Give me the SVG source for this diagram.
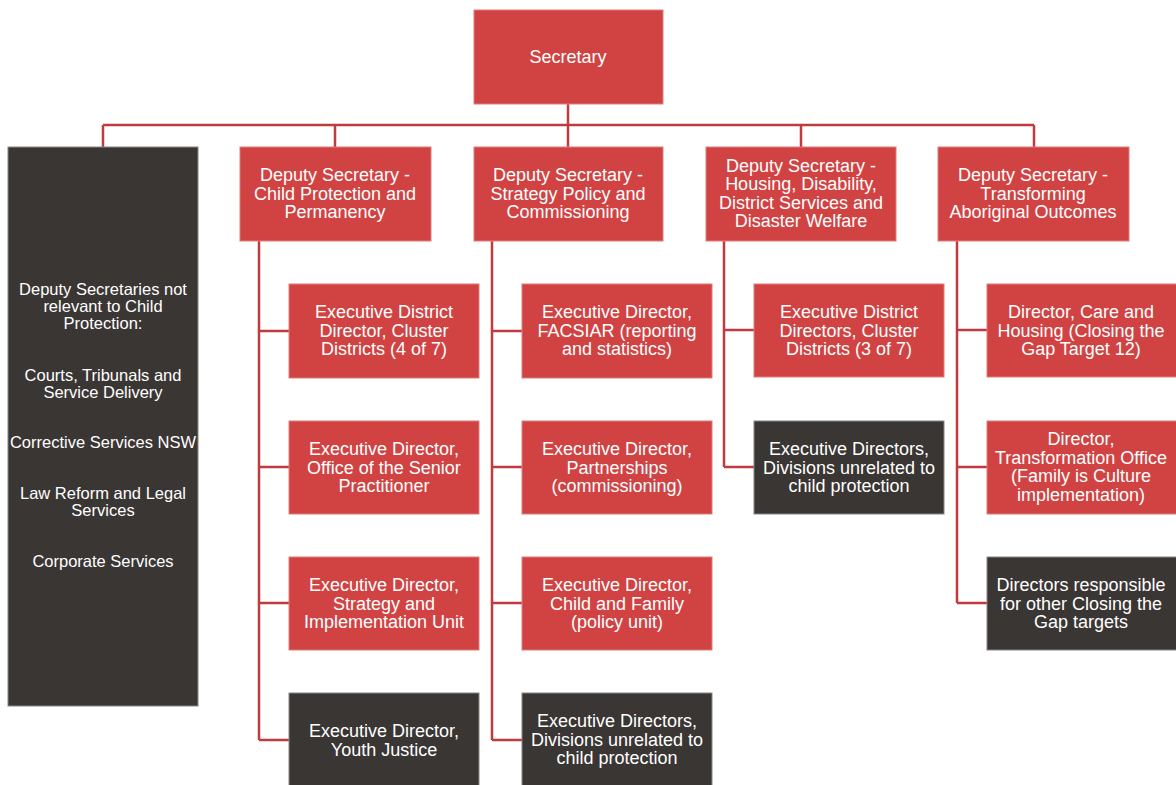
<svg xmlns="http://www.w3.org/2000/svg" width="1176" height="785" viewBox="0 0 1176 785">
<style>
.r{fill:#D14343;stroke:#E27C7C;stroke-width:1}
.d{fill:#3A3634;stroke:#8A8684;stroke-width:1}
text{font-family:"Liberation Sans",Arial,sans-serif;font-size:18px;fill:#FFFFFF;text-anchor:middle}
.s{font-size:16.5px}
.c{fill:none;stroke:#BF3B3D;stroke-width:2.5}
</style>
<rect width="1176" height="785" fill="#FFFFFF"/>
<g id="connectors">
<path class="c" d="M568 104V147M103 125H1034M103 125V147M335 125V147M801 125V147M1034 125V147"/>
<path class="c" d="M259 241V740M259 331H290M259 467H290M259 603H290M259 740H290"/>
<path class="c" d="M492 241V740M492 331H522M492 467H522M492 603H522M492 740H522"/>
<path class="c" d="M724 241V467M724 330H754M724 467H754"/>
<path class="c" d="M957 241V603M957 330H987M957 467H987M957 603H987"/>
</g>
<g id="secretary"><rect class="r" x="474" y="10" width="189" height="94"/><text x="568" y="63">Secretary</text></g>
<g id="other-deputies"><rect class="d" x="8" y="147" width="190" height="559"/>
<text class="s" x="103" y="295">Deputy Secretaries not</text>
<text class="s" x="103" y="312">relevant to Child</text>
<text class="s" x="103" y="329">Protection:</text>
<text class="s" x="103" y="381">Courts, Tribunals and</text>
<text class="s" x="103" y="398">Service Delivery</text>
<text class="s" x="103" y="448">Corrective Services NSW</text>
<text class="s" x="103" y="499">Law Reform and Legal</text>
<text class="s" x="103" y="516">Services</text>
<text class="s" x="103" y="567">Corporate Services</text>
</g>
<g id="ds-child"><rect class="r" x="240" y="147" width="191" height="94"/>
<text x="335" y="181">Deputy Secretary -</text><text x="335" y="199.5">Child Protection and</text><text x="335" y="218">Permanency</text></g>
<g id="ds-strategy"><rect class="r" x="474" y="147" width="189" height="94"/>
<text x="568" y="181">Deputy Secretary -</text><text x="568" y="199.5">Strategy Policy and</text><text x="568" y="218">Commissioning</text></g>
<g id="ds-housing"><rect class="r" x="706" y="147" width="190" height="94"/>
<text x="801" y="171.5">Deputy Secretary -</text><text x="801" y="190">Housing, Disability,</text><text x="801" y="208.5">District Services and</text><text x="801" y="227">Disaster Welfare</text></g>
<g id="ds-aboriginal"><rect class="r" x="938" y="147" width="191" height="94"/>
<text x="1033" y="181">Deputy Secretary -</text><text x="1033" y="199.5">Transforming</text><text x="1033" y="218">Aboriginal Outcomes</text></g>
<g id="c1r1"><rect class="r" x="289" y="284" width="190" height="94"/>
<text x="384" y="318">Executive District</text><text x="384" y="336.5">Director, Cluster</text><text x="384" y="355">Districts (4 of 7)</text></g>
<g id="c1r2"><rect class="r" x="289" y="421" width="190" height="93"/>
<text x="384" y="455">Executive Director,</text><text x="384" y="473.5">Office of the Senior</text><text x="384" y="492">Practitioner</text></g>
<g id="c1r3"><rect class="r" x="289" y="557" width="190" height="93"/>
<text x="384" y="591">Executive Director,</text><text x="384" y="609.5">Strategy and</text><text x="384" y="628">Implementation Unit</text></g>
<g id="c1r4"><rect class="d" x="289" y="693" width="190" height="93"/>
<text x="384" y="737">Executive Director,</text><text x="384" y="755.5">Youth Justice</text></g>
<g id="c2r1"><rect class="r" x="522" y="284" width="190" height="94"/>
<text x="617" y="318">Executive Director,</text><text x="617" y="336.5">FACSIAR (reporting</text><text x="617" y="355">and statistics)</text></g>
<g id="c2r2"><rect class="r" x="522" y="421" width="190" height="93"/>
<text x="617" y="455">Executive Director,</text><text x="617" y="473.5">Partnerships</text><text x="617" y="492">(commissioning)</text></g>
<g id="c2r3"><rect class="r" x="522" y="557" width="190" height="93"/>
<text x="617" y="591">Executive Director,</text><text x="617" y="609.5">Child and Family</text><text x="617" y="628">(policy unit)</text></g>
<g id="c2r4"><rect class="d" x="522" y="693" width="190" height="93"/>
<text x="617" y="727">Executive Directors,</text><text x="617" y="745.5">Divisions unrelated to</text><text x="617" y="764">child protection</text></g>
<g id="c3r1"><rect class="r" x="754" y="284" width="190" height="93"/>
<text x="849" y="318">Executive District</text><text x="849" y="336.5">Directors, Cluster</text><text x="849" y="355">Districts (3 of 7)</text></g>
<g id="c3r2"><rect class="d" x="754" y="421" width="190" height="93"/>
<text x="849" y="455">Executive Directors,</text><text x="849" y="473.5">Divisions unrelated to</text><text x="849" y="492">child protection</text></g>
<g id="c4r1"><rect class="r" x="987" y="284" width="190" height="93"/>
<text x="1081" y="318">Director, Care and</text><text x="1081" y="336.5">Housing (Closing the</text><text x="1081" y="355">Gap Target 12)</text></g>
<g id="c4r2"><rect class="r" x="987" y="421" width="190" height="93"/>
<text x="1081" y="445">Director,</text><text x="1081" y="463.5">Transformation Office</text><text x="1081" y="482">(Family is Culture</text><text x="1081" y="500.5">implementation)</text></g>
<g id="c4r3"><rect class="d" x="987" y="557" width="190" height="93"/>
<text x="1081" y="591">Directors responsible</text><text x="1081" y="609.5">for other Closing the</text><text x="1081" y="628">Gap targets</text></g>
</svg>
